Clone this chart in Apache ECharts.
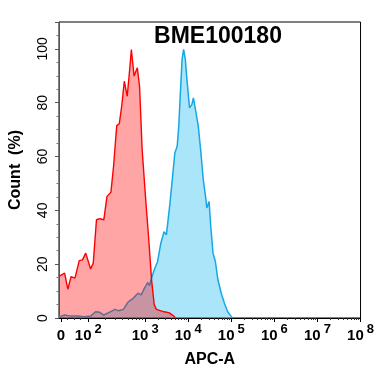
<!DOCTYPE html>
<html><head><meta charset="utf-8">
<script src="https://cdn.jsdelivr.net/npm/echarts@6/dist/echarts.min.js"></script>
<style>html,body{margin:0;padding:0;background:#fff}#c{width:377px;height:378px}</style>
</head><body><div id="c"></div>
<script>
const chartTitle = 'BME100180';
const xName = 'APC-A';
const yName = 'Count  (%)';
// positions of the axis labels on the display (biexponential) scale
const tickValues = [1.045, 1.68, 3, 4, 5, 6, 7, 8];
const tickExponents = [null, 2, 3, 4, 5, 6, 7, 8];
const yTicks = [0, 20, 40, 60, 80, 100];

// red histogram (display-scale x, percent y)
const redX = [1.0, 1.016, 1.13, 1.205, 1.28, 1.37, 1.47, 1.545, 1.62, 1.734, 1.795, 1.87, 1.948, 2.04, 2.114, 2.205, 2.266, 2.34, 2.40, 2.455, 2.516, 2.584, 2.63, 2.68, 2.743, 2.818, 2.87, 2.93, 3.007, 3.084, 3.15, 3.21, 3.26, 3.295, 3.44, 3.55, 3.666, 3.70];
const redY = [15.5, 15.2, 16.7, 10.7, 15.4, 14.8, 21.3, 21.6, 24.1, 18.2, 20.4, 36.5, 36.9, 36.5, 45.2, 46.7, 56.3, 71.5, 72.2, 78.7, 88.0, 82.4, 90.5, 99.8, 89.9, 93.0, 86.1, 62.6, 45.2, 29.1, 14.0, 5.0, 3.2, 3.0, 2.3, 2.0, 0.7, 0];

// blue histogram
const blueX = [1.0, 1.052, 1.13, 1.28, 1.43, 1.584, 1.734, 1.848, 1.948, 2.04, 2.189, 2.30, 2.38, 2.493, 2.607, 2.72, 2.834, 2.909, 2.984, 3.061, 3.10, 3.136, 3.211, 3.289, 3.364, 3.439, 3.493, 3.568, 3.63, 3.689, 3.743, 3.78, 3.818, 3.857, 3.893, 3.932, 3.97, 4.03, 4.084, 4.12, 4.175, 4.234, 4.295, 4.348, 4.402, 4.432, 4.484, 4.523, 4.575, 4.63, 4.689, 4.766, 4.84, 4.916, 4.993, 5.03];
const blueY = [0.5, 0.7, 1.1, 0.7, 0.7, 0.5, 0.7, 2.3, 2.1, 1.1, 2.3, 3.2, 2.7, 3.2, 6.0, 7.3, 9.2, 8.6, 11.1, 13.2, 12.0, 14.2, 17.9, 21.0, 27.8, 32.1, 30.9, 41.5, 51.4, 61.3, 63.8, 71.2, 83.7, 96.1, 99.8, 96.1, 88.6, 78.1, 79.3, 81.8, 76.8, 71.2, 61.3, 51.4, 45.2, 40.9, 43.3, 34.0, 24.1, 21.0, 14.2, 9.2, 5.5, 2.3, 0.7, 0];

const zip = (xs, ys) => xs.map((x, i) => [x, ys[i]]);

// minor tick positions on x axis
const minorX = [1.2, 1.35, 1.5];
for (let k = 2; k <= 9; k++) minorX.push(1.68 + Math.log10(k) * 1.32);
for (let d = 3; d < 8; d++) for (let k = 2; k <= 9; k++) minorX.push(d + Math.log10(k));

const FONT = "'Liberation Sans', Arial, sans-serif";
const chart = echarts.init(document.getElementById('c'), null, {renderer: 'canvas'});
chart.setOption({
  animation: false,
  backgroundColor: '#fff',
  title: {
    text: chartTitle, left: 213, top: 20, textAlign: 'center',
    textStyle: {fontFamily: FONT, fontSize: 23, fontWeight: 'bold', color: '#000'}
  },
  grid: {left: 59, right: 10, top: 22, bottom: 60, show: true, borderColor: '#000', borderWidth: 1},
  xAxis: [{
    type: 'value', min: 1.0, max: 8,
    name: xName, nameLocation: 'middle', nameGap: 34,
    nameTextStyle: {fontFamily: FONT, fontSize: 16, fontWeight: 'bold', color: '#000'},
    axisLine: {show: true, lineStyle: {color: '#000', width: 1}},
    splitLine: {show: false},
    axisTick: {show: true, length: 4, lineStyle: {color: '#000'}, customValues: tickValues},
    axisLabel: {
      customValues: tickValues, margin: 5,
      fontFamily: FONT, fontSize: 15, fontWeight: 'bold', color: '#000',
      formatter: function (v) {
        let idx = 0, best = 1e9;
        tickValues.forEach((t, i) => { const d = Math.abs(t - v); if (d < best) { best = d; idx = i; } });
        const e = tickExponents[idx];
        if (e === null) return '{b|0}';
        return '{b|10}{s|' + e + '}';
      },
      rich: {
        b: {fontFamily: FONT, fontSize: 15, fontWeight: 'bold', color: '#000', lineHeight: 26},
        s: {fontFamily: FONT, fontSize: 13, fontWeight: 'bold', color: '#000', verticalAlign: 'top', padding: [0, 0, 0, 3]}
      }
    }
  }, {
    type: 'value', min: 1.0, max: 8, position: 'bottom',
    axisLine: {show: false}, splitLine: {show: false}, axisLabel: {show: false},
    axisTick: {show: true, length: 2, lineStyle: {color: '#333'}, customValues: minorX}
  }],
  yAxis: {
    type: 'value', min: 0, max: 110, interval: 20,
    name: yName, nameLocation: 'middle', nameGap: 35,
    nameTextStyle: {fontFamily: FONT, fontSize: 16, fontWeight: 'bold', color: '#000'},
    axisLine: {show: true, lineStyle: {color: '#555', width: 1}},
    splitLine: {show: false},
    axisTick: {show: true, length: 4, lineStyle: {color: '#555'}},
    minorTick: {show: true, splitNumber: 4, length: 2.5, lineStyle: {color: '#777'}},
    axisLabel: {
      rotate: 90, margin: 9, showMaxLabel: false,
      fontFamily: FONT, fontSize: 14, color: '#000',
      formatter: v => (yTicks.indexOf(v) >= 0 ? String(v) : '')
    }
  },
  series: [{
    type: 'line', data: zip(blueX, blueY), showSymbol: false, smooth: false,
    lineStyle: {color: '#14a8e4', width: 1.5},
    areaStyle: {color: 'rgba(0,176,240,0.47)'},
    z: 2
  }, {
    type: 'line', data: zip(redX, redY), showSymbol: false, smooth: false,
    lineStyle: {color: '#ff0000', width: 1.4},
    areaStyle: {color: 'rgba(255,0,0,0.5)'},
    z: 3
  }]
});
</script>
</body></html>
